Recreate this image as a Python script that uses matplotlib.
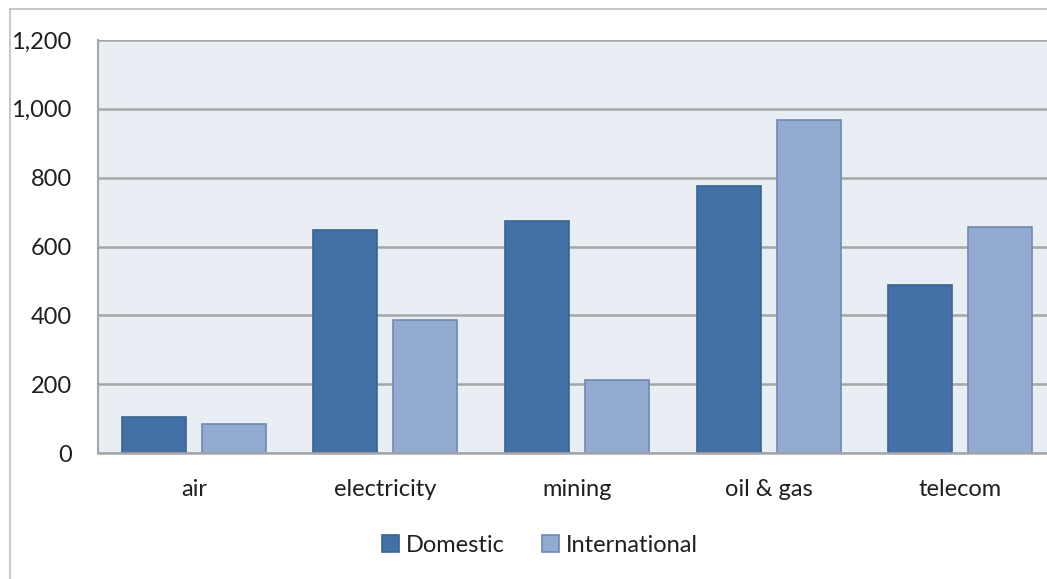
import matplotlib
matplotlib.use("Agg")
import matplotlib.pyplot as plt
import numpy as np
from matplotlib.ticker import FuncFormatter
from matplotlib.lines import Line2D

categories = ["air", "electricity", "mining", "oil & gas", "telecom"]
domestic = [105, 648, 674, 776, 488]
international = [84, 387, 212, 968, 657]
yticks = [0, 200, 400, 600, 800, 1000, 1200]

plt.rcParams['font.family'] = ['Lato', 'DejaVu Sans']

W, H = 1047, 579
fig = plt.figure(figsize=(W / 100, H / 100), dpi=100)

# outer chart border
fig.add_artist(Line2D([10 / W, 10 / W], [0, 1 - 9 / H], transform=fig.transFigure,
                      color="#BDBDBD", lw=1.2))
fig.add_artist(Line2D([10 / W, 1], [1 - 9 / H, 1 - 9 / H], transform=fig.transFigure,
                      color="#BDBDBD", lw=1.2))

left, right, top, bottom = 98, 1056, 40, 453
ax = fig.add_axes([left / W, 1 - bottom / H, (right - left) / W, (bottom - top) / H])
ax.set_facecolor("#E9EDF4")

x = np.arange(len(categories))
bw = 0.334
off = 0.209
c_dom, e_dom = "#4371A6", "#3A6391"
c_int, e_int = "#93AAD1", "#7089B4"
ax.bar(x - off, domestic, bw, color=c_dom, edgecolor=e_dom, linewidth=1.2,
       label="Domestic", zorder=3)
ax.bar(x + off, international, bw, color=c_int, edgecolor=e_int, linewidth=1.2,
       label="International", zorder=3)

ax.set_xlim(-0.5, len(categories) - 0.5)
ax.set_ylim(0, 1200)
ax.set_yticks(yticks)
ax.yaxis.set_major_formatter(FuncFormatter(lambda v, p: f"{int(v):,}"))
ax.grid(axis="y", color="#A6A6A6", linewidth=1.8, zorder=1)
ax.set_axisbelow(True)
for s in ["top", "right"]:
    ax.spines[s].set_visible(False)
ax.spines["left"].set_color("#A6A6A6")
ax.spines["left"].set_linewidth(1.5)
ax.spines["bottom"].set_color("#A6A6A6")
ax.spines["bottom"].set_linewidth(1.8)
ax.spines["bottom"].set_zorder(4)

txt = "#1F1F1F"
ax.set_xticks(x)
ax.set_xticklabels(categories)
ax.tick_params(axis="x", length=0, pad=18.5, labelsize=17, labelcolor=txt)
ax.tick_params(axis="y", length=0, pad=19, labelsize=17, labelcolor=txt)

handles, labels = ax.get_legend_handles_labels()
fig.legend(handles, labels, loc="center", bbox_to_anchor=(540 / W, 1 - 545 / H),
           ncol=2, frameon=False, fontsize=17, handlelength=0.7, handleheight=0.7,
           handletextpad=0.3, columnspacing=1.6, labelcolor=txt)

fig.savefig("out.png", dpi=100, facecolor="white")
